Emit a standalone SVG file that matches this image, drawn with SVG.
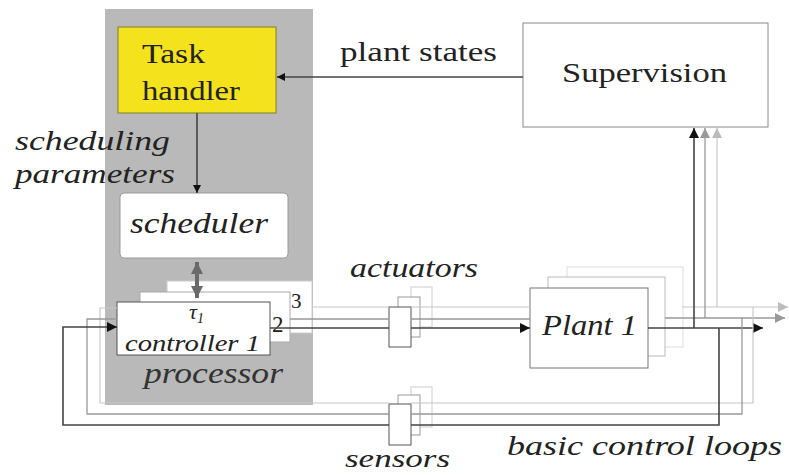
<svg xmlns="http://www.w3.org/2000/svg" width="789" height="475" viewBox="0 0 789 475">
<style>
text{font-family:"Liberation Serif","Times New Roman",serif;fill:#222}
.it{font-style:italic}
.dk{stroke:#444;stroke-width:1.6;fill:none}
.md{stroke:#999;stroke-width:1.3;fill:none}
.lt{stroke:#c8c8c8;stroke-width:1.2;fill:none}
</style>
<defs>
<marker id="ak" viewBox="0 0 10 10" refX="10" refY="5" markerWidth="10" markerHeight="8" markerUnits="userSpaceOnUse" orient="auto"><path d="M0,0 L10,5 L0,10 z" fill="#111"/></marker>
<marker id="akb" viewBox="0 0 10 10" refX="10" refY="5" markerWidth="16" markerHeight="10" markerUnits="userSpaceOnUse" orient="auto"><path d="M0,0 L10,5 L0,10 z" fill="#111"/></marker>
<marker id="am" viewBox="0 0 10 10" refX="10" refY="5" markerWidth="14" markerHeight="10" markerUnits="userSpaceOnUse" orient="auto"><path d="M0,0 L10,5 L0,10 z" fill="#999"/></marker>
<marker id="al" viewBox="0 0 10 10" refX="10" refY="5" markerWidth="14" markerHeight="10" markerUnits="userSpaceOnUse" orient="auto"><path d="M0,0 L10,5 L0,10 z" fill="#bbb"/></marker>
<marker id="ag" viewBox="0 0 10 10" refX="10" refY="5" markerWidth="13" markerHeight="12" markerUnits="userSpaceOnUse" orient="auto-start-reverse"><path d="M0,0 L10,5 L0,10 z" fill="#6a6a6a"/></marker>
</defs>
<rect width="789" height="475" fill="#fff"/>
<g id="processor">
<rect x="105" y="9" width="208" height="396" fill="#b9b9b9"/>
<text x="144" y="383" class="it" font-size="30" textLength="139" lengthAdjust="spacingAndGlyphs" style="fill:#333">processor</text>
</g>
<g id="task-handler">
<rect x="118" y="27" width="158" height="86" fill="#f4e31c" stroke="#8a8a3a" stroke-width="1.2"/>
<text x="142" y="63" font-size="28" textLength="63" lengthAdjust="spacingAndGlyphs">Task</text>
<text x="142" y="100" font-size="28" textLength="98" lengthAdjust="spacingAndGlyphs">handler</text>
</g>
<g id="scheduling-label">
<text x="15" y="150" class="it" font-size="28" textLength="155" lengthAdjust="spacingAndGlyphs">scheduling</text>
<text x="15" y="183" class="it" font-size="28" textLength="160" lengthAdjust="spacingAndGlyphs">parameters</text>
</g>
<g id="scheduler">
<rect x="120" y="193" width="168" height="65" rx="4" fill="#fff" stroke="#999"/>
<text x="130" y="233" class="it" font-size="29" textLength="138" lengthAdjust="spacingAndGlyphs">scheduler</text>
</g>
<g id="controllers">
<rect x="167" y="281" width="145" height="52" fill="#fff" stroke="#ccc"/>
<rect x="140" y="292" width="150" height="50" fill="#fff" stroke="#aaa"/>
<rect x="117" y="302" width="153" height="53" fill="#fff" stroke="#555"/>
<text x="291" y="308" font-size="21">3</text>
<text x="272" y="332" font-size="23">2</text>
<text x="189" y="319" class="it" font-size="22">τ<tspan font-size="14" dy="4">1</tspan></text>
<text x="125" y="351" class="it" font-size="23" textLength="135" lengthAdjust="spacingAndGlyphs">controller 1</text>
</g>
<g id="actuators">
<rect x="411" y="287" width="21" height="40" fill="none" stroke="#ccc"/>
<rect x="398" y="297" width="22" height="40" fill="#fff" stroke="#999"/>
<rect x="389" y="307" width="22" height="40" fill="#fff" stroke="#555"/>
<text x="350" y="277" class="it" font-size="28" textLength="128" lengthAdjust="spacingAndGlyphs">actuators</text>
</g>
<g id="sensors">
<rect x="411" y="387" width="21" height="40" fill="none" stroke="#ccc"/>
<rect x="398" y="395" width="22" height="40" fill="#fff" stroke="#999"/>
<rect x="389" y="404" width="22" height="41" fill="#fff" stroke="#555"/>
<text x="345" y="467" class="it" font-size="26" textLength="105" lengthAdjust="spacingAndGlyphs">sensors</text>
</g>
<g id="plants">
<rect x="567" y="267" width="116" height="80" fill="#fff" stroke="#ddd"/>
<rect x="548" y="277" width="117" height="79" fill="#fff" stroke="#bbb"/>
<rect x="530" y="288" width="118" height="80" fill="#fff" stroke="#777"/>
<text x="542" y="335" class="it" font-size="30" textLength="95" lengthAdjust="spacingAndGlyphs">Plant 1</text>
</g>
<g id="supervision">
<rect x="523" y="23" width="245" height="104" fill="#fff" stroke="#888"/>
<text x="562" y="82" font-size="27" textLength="165" lengthAdjust="spacingAndGlyphs">Supervision</text>
</g>
<g id="labels">
<text x="340" y="61" font-size="27" textLength="157" lengthAdjust="spacingAndGlyphs">plant states</text>
<text x="507" y="455" class="it" font-size="28" textLength="275" lengthAdjust="spacingAndGlyphs">basic control loops</text>
</g>
<g id="connectors">
<line x1="523" y1="77" x2="277" y2="77" class="dk" stroke-width="1.2" marker-end="url(#ak)"/>
<line x1="197" y1="113" x2="197" y2="193" class="dk" stroke-width="1.2" marker-end="url(#ak)"/>
<line x1="197" y1="262" x2="197" y2="298" stroke="#6a6a6a" stroke-width="4" marker-start="url(#ag)" marker-end="url(#ag)"/>
<line x1="312" y1="307" x2="389" y2="307" class="lt"/>
<line x1="411" y1="307" x2="530" y2="307" class="lt"/>
<line x1="290" y1="319" x2="389" y2="319" class="md"/>
<line x1="411" y1="319" x2="530" y2="319" class="md"/>
<line x1="270" y1="328" x2="389" y2="328" class="dk"/>
<line x1="411" y1="328" x2="530" y2="328" class="dk" marker-end="url(#akb)"/>
<line x1="682" y1="307" x2="788" y2="307" class="lt" marker-end="url(#al)"/>
<line x1="665" y1="318" x2="785" y2="318" class="md" marker-end="url(#am)"/>
<line x1="648" y1="328" x2="763" y2="328" class="dk" marker-end="url(#akb)"/>
<line x1="717" y1="307" x2="717" y2="128" class="lt" marker-end="url(#al)"/>
<line x1="705" y1="318" x2="705" y2="128" class="md" marker-end="url(#am)"/>
<line x1="694" y1="328" x2="694" y2="128" class="dk" stroke-width="2" marker-end="url(#akb)"/>
<polyline points="753,307 753,403 411,403" class="lt"/>
<polyline points="389,403 100,403 100,308 117,308" class="lt"/>
<polyline points="742,318 742,414 411,414" class="md"/>
<polyline points="389,414 87,414 87,319 117,319" class="md"/>
<polyline points="719,328 719,425 411,425" class="dk"/>
<polyline points="389,425 63,425 63,327 117,327" class="dk" marker-end="url(#akb)"/>
</g>
</svg>
